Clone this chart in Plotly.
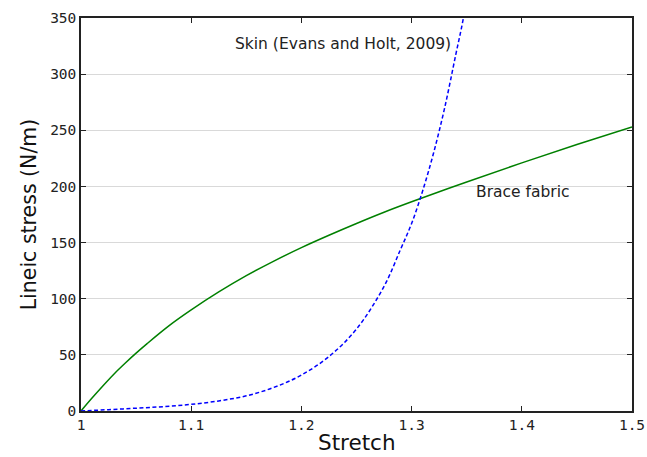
import plotly.graph_objects as go

# Brace fabric (green solid)
brace_x = [1.0, 1.01, 1.02, 1.03, 1.04, 1.05, 1.06, 1.08, 1.1, 1.125, 1.15, 1.175, 1.2, 1.225, 1.25, 1.275, 1.3, 1.35, 1.4, 1.45, 1.5]
brace_y = [0, 11.5, 22.5, 33, 42.5, 51.5, 60, 76, 90, 106, 120.5, 133.5, 145.5, 156.5, 167, 177, 186.3, 204, 221, 237.3, 253]

# Skin (Evans and Holt, 2009) (blue dashed)
skin_x = [1.0, 1.025, 1.05, 1.075, 1.1, 1.125, 1.15, 1.175, 1.2, 1.225, 1.25, 1.275, 1.29, 1.3, 1.31, 1.32, 1.33, 1.34, 1.347, 1.355]
skin_y = [0, 1.2, 2.5, 3.9, 5.9, 9, 13.5, 21, 32, 48.5, 73, 111, 144, 167, 196, 230, 270, 317, 350, 400]

x_ticks = [1.0, 1.1, 1.2, 1.3, 1.4, 1.5]
x_tick_labels = ["1", "1.1", "1.2", "1.3", "1.4", "1.5"]
y_ticks = [0, 50, 100, 150, 200, 250, 300, 350]

fig = go.Figure()
fig.add_trace(go.Scatter(x=brace_x, y=brace_y, mode="lines", line=dict(color="#008000", width=1.5, shape="spline"), showlegend=False))
fig.add_trace(go.Scatter(x=skin_x, y=skin_y, mode="lines", line=dict(color="#0000ff", width=1.5, dash="4px,2.5px", shape="spline"), showlegend=False))

fig.add_annotation(x=1.238, y=326.5, text="Skin (Evans and Holt, 2009)", showarrow=False,
                   font=dict(family="DejaVu Sans", size=15.5, color="#222"))
fig.add_annotation(x=1.401, y=195, text="Brace fabric", showarrow=False,
                   font=dict(family="DejaVu Sans", size=15.5, color="#222"))
# x-axis title placed as a paper annotation for exact vertical position
fig.add_annotation(xref="paper", yref="paper", x=0.5, y=-0.081, yanchor="middle", text="Stretch",
                   showarrow=False, font=dict(family="DejaVu Sans", size=21.5, color="#111"))

axis_common = dict(showline=True, linecolor="#222", linewidth=1.5, mirror="ticks",
                   ticks="inside", ticklen=5, tickcolor="#222", zeroline=False, automargin=False,
                   tickfont=dict(family="DejaVu Sans Mono", size=14.5, color="#222"))

fig.update_xaxes(range=[1.0, 1.5], tickvals=x_ticks, ticktext=x_tick_labels, showgrid=False,
                 **axis_common)
fig.update_yaxes(range=[0, 350], tickvals=y_ticks, showgrid=True, gridcolor="#d9d9d9", gridwidth=1,
                 title=dict(text="Lineic stress (N/m)", font=dict(family="DejaVu Sans", size=20.5, color="#111"), standoff=8),
                 **axis_common)

fig.update_layout(width=647, height=457, margin=dict(l=81, r=15, t=18, b=46),
                  plot_bgcolor="white", paper_bgcolor="white")

fig.write_html("out.html", config={"displayModeBar": False},
               post_script="document.body.style.margin='0';document.body.style.padding='0';")
